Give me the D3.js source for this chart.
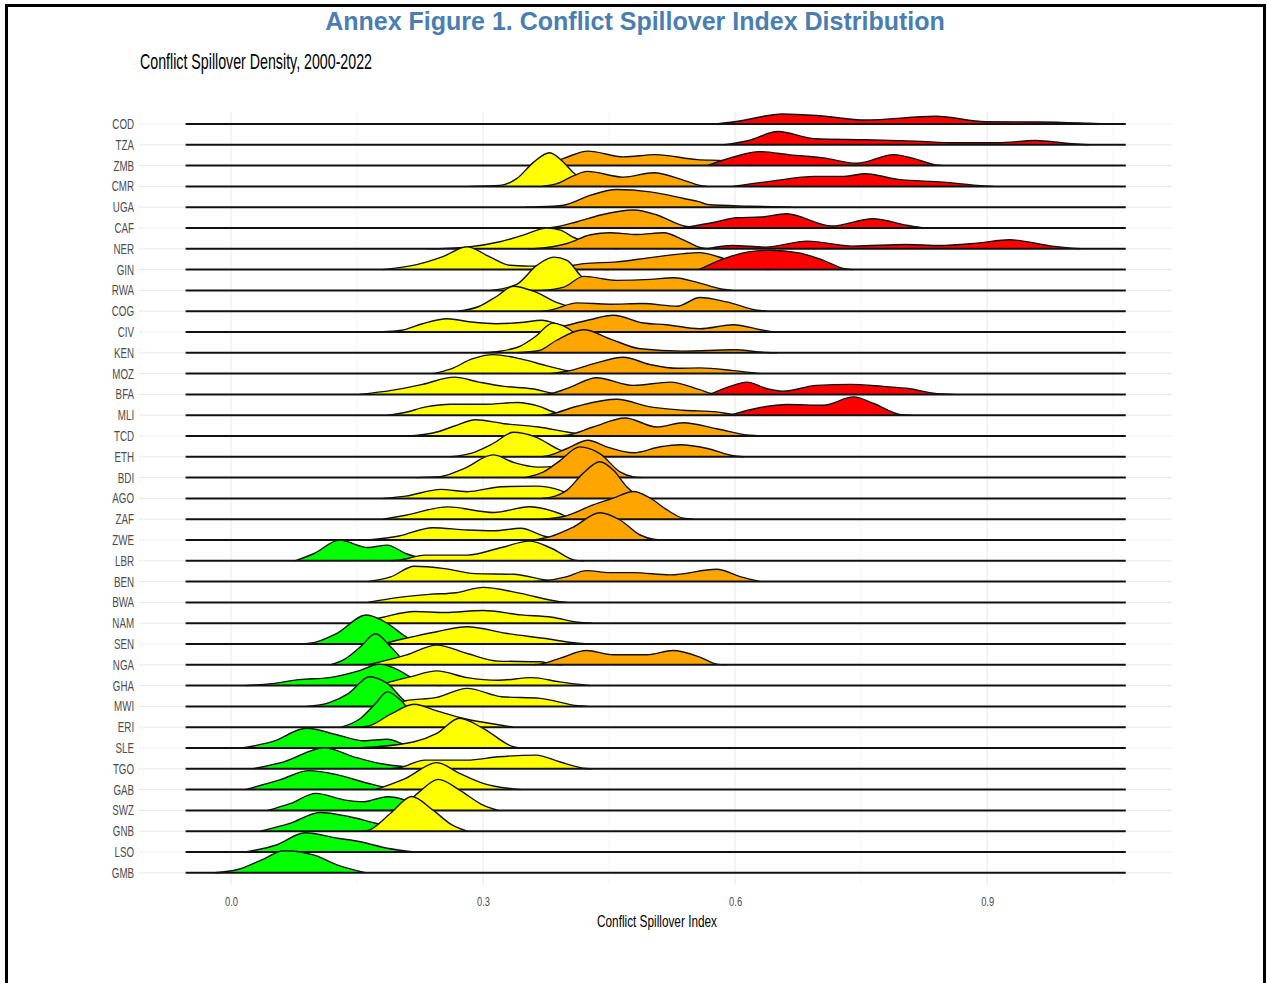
<!DOCTYPE html>
<html lang="en">
<head>
<meta charset="utf-8">
<title>Annex Figure 1. Conflict Spillover Index Distribution</title>
<script src="https://cdn.jsdelivr.net/npm/d3@7"></script>
<style>
body { margin: 0; background: #fff; }
svg { display: block; font-family: "Liberation Sans", Arial, sans-serif; }
</style>
</head>
<body>
<svg id="chart" width="1267" height="983"></svg>
<script>
// countries, top to bottom
var countries = ["COD","TZA","ZMB","CMR","UGA","CAF","NER","GIN","RWA","COG","CIV","KEN","MOZ","BFA","MLI",
  "TCD","ETH","BDI","AGO","ZAF","ZWE","LBR","BEN","BWA","NAM","SEN","NGA","GHA","MWI","ERI","SLE","TGO",
  "GAB","SWZ","GNB","LSO","GMB"];

var categories = ["Low", "Moderate", "High", "Very high"];
var categoryColors = ["#00ff00", "#ffff00", "#ffa500", "#ff0000"];

var xTicks = [0, 0.3, 0.6, 0.9];
var xMinorTicks = [0.15, 0.45, 0.75, 1.05];
var densityRange = [-0.054, 1.065];

// [index value, scaled density]
var lowDensity = [
  ["LBR", [[.076,0],[.099,7.3],[.129,20.7],[.163,13.3],[.186,15.7],[.208,7.3],[.22,4],[.24,1],[.26,0]]],
  ["SEN", [[.08,0],[.094,0.7],[.126,10.7],[.161,29],[.186,20.7],[.208,7.3],[.222,1.3],[.235,0]]],
  ["NGA", [[.118,0],[.136,6],[.154,18],[.172,31],[.19,18],[.208,3],[.22,0]]],
  ["GHA", [[.017,0],[.049,2],[.081,6],[.117,8],[.154,15.3],[.176,21.3],[.2,15.3],[.213,8.7],[.23,2],[.25,0]]],
  ["MWI", [[.09,0],[.117,3.7],[.14,13],[.165,29.7],[.186,23],[.208,4.7],[.22,0]]],
  ["ERI", [[.131,0],[.154,8.7],[.172,23.7],[.186,35.3],[.204,25.3],[.222,7],[.236,0]]],
  ["SLE", [[.013,0],[.049,6.3],[.09,19.7],[.127,13],[.158,7.3],[.186,8.7],[.208,3],[.225,0]]],
  ["TGO", [[.026,0],[.063,7],[.111,21],[.146,12],[.177,5.3],[.208,2],[.23,0]]],
  ["GAB", [[.017,0],[.058,9.7],[.093,19],[.127,14.7],[.163,6.3],[.19,1.3],[.21,0]]],
  ["SWZ", [[.044,0],[.071,7],[.101,17],[.136,10.3],[.158,8.7],[.186,13.7],[.208,10.3],[.23,2],[.25,0]]],
  ["GNB", [[.035,0],[.071,8],[.106,18.7],[.14,14.7],[.172,8],[.208,1.3],[.225,0]]],
  ["LSO", [[.017,0],[.054,7],[.088,19.3],[.127,13.7],[.154,10.3],[.186,3.7],[.218,0]]],
  ["GMB", [[-.019,0],[.008,3.3],[.036,12.7],[.063,22],[.099,17.7],[.127,7.7],[.16,0]]]
];

var moderateDensity = [
  ["CMR", [[.285,0],[.32,1],[.34,7.7],[.36,24],[.379,33.7],[.396,24],[.408,13.3],[.42,6],[.44,1],[.46,0]]],
  ["NER", [[.233,0],[.281,1.7],[.32,7],[.348,13.7],[.376,20.7],[.392,18.7],[.408,11.3],[.43,4],[.46,0]]],
  ["GIN", [[.181,0],[.221,5],[.253,13.3],[.281,22.7],[.308,12.7],[.332,4.3],[.364,3.3],[.396,2.7],[.42,1],[.45,0]]],
  ["RWA", [[.31,0],[.34,6],[.364,25],[.384,33.3],[.4,30],[.416,15],[.43,6],[.45,1],[.465,0]]],
  ["COG", [[.27,0],[.295,4.7],[.316,14.7],[.336,25],[.36,20],[.39,8],[.42,1.5],[.45,0]]],
  ["CIV", [[.178,0],[.203,1.7],[.228,8.3],[.257,13.3],[.286,10],[.316,8.3],[.345,9.5],[.37,11.8],[.392,7],[.41,3],[.44,0]]],
  ["KEN", [[.3,0],[.32,1.5],[.345,7],[.362,16],[.383,29.7],[.4,25],[.42,12],[.44,3],[.46,0]]],
  ["MOZ", [[.241,0],[.262,4.7],[.287,14.7],[.312,19],[.345,14.7],[.375,8],[.4,3],[.43,0]]],
  ["BFA", [[.153,0],[.191,4],[.228,10],[.266,17.3],[.295,12.3],[.325,8],[.358,5.7],[.387,0.7],[.4,0]]],
  ["MLI", [[.187,0],[.207,2.7],[.232,8.3],[.262,11],[.304,11],[.341,12.7],[.366,9],[.387,2.3],[.4,0]]],
  ["TCD", [[.212,0],[.245,4],[.266,10],[.291,16.3],[.325,12.3],[.366,9],[.4,4],[.425,0.7],[.44,0]]],
  ["ETH", [[.262,0],[.291,5],[.312,13.3],[.336,24.5],[.362,20],[.392,6.7],[.42,1],[.44,0]]],
  ["BDI", [[.22,0],[.249,1],[.278,9.3],[.312,22.7],[.337,15],[.366,10.5],[.385,11],[.41,5],[.44,0]]],
  ["AGO", [[.181,0],[.208,2.3],[.25,9],[.281,6.7],[.322,11.7],[.363,12.3],[.391,8.3],[.4,5],[.43,1],[.45,0]]],
  ["ZAF", [[.181,0],[.208,4],[.258,12.3],[.313,6.7],[.355,12.5],[.391,5.7],[.405,0.7],[.42,0]]],
  ["ZWE", [[.163,0],[.2,4],[.24,12.3],[.281,10],[.313,9.3],[.345,11.7],[.372,4],[.4,0]]],
  ["LBR", [[.19,0],[.2,0.7],[.231,5.7],[.281,5.7],[.322,13.3],[.355,19.7],[.382,12.3],[.409,0.7],[.42,0]]],
  ["BEN", [[.163,0],[.19,4.7],[.218,15.3],[.254,13],[.29,8],[.336,7.3],[.377,1.3],[.39,0]]],
  ["BWA", [[.163,0],[.2,5],[.236,8],[.268,9.7],[.3,15],[.345,9],[.391,0.7],[.4,0]]],
  ["NAM", [[.15,0],[.181,6],[.218,11.7],[.254,10.7],[.3,12.7],[.345,8.3],[.382,6],[.413,1],[.43,0]]],
  ["SEN", [[.18,0],[.208,5.7],[.245,12.3],[.281,17.3],[.327,10.7],[.372,5.7],[.413,0.7],[.425,0]]],
  ["NGA", [[.163,0],[.208,9.7],[.245,19.7],[.281,11.3],[.318,3.7],[.368,3],[.382,0.7],[.395,0]]],
  ["GHA", [[.17,0],[.181,2],[.213,8.7],[.245,14.7],[.281,8],[.318,5.3],[.358,8],[.391,3.7],[.427,0]]],
  ["MWI", [[.17,0],[.186,1.3],[.208,5.7],[.245,9],[.281,18],[.322,9.7],[.368,8],[.413,0.7],[.425,0]]],
  ["ERI", [[.15,0],[.163,1],[.19,13],[.218,23],[.245,16.3],[.281,8],[.322,2],[.336,0]]],
  ["SLE", [[.15,0],[.163,0.7],[.218,6.3],[.245,14.7],[.272,29.7],[.3,19.7],[.336,1.3],[.345,0]]],
  ["TGO", [[.19,0],[.2,1],[.231,8.7],[.281,8.7],[.318,12],[.363,13.7],[.391,7],[.423,0.3],[.43,0]]],
  ["GAB", [[.172,0],[.208,11.3],[.245,27],[.272,16.3],[.3,6.3],[.336,0.7],[.345,0]]],
  ["SWZ", [[.19,0],[.2,1],[.222,17],[.247,31],[.272,20.3],[.3,5.3],[.318,0]]],
  ["GNB", [[.155,0],[.163,0.7],[.19,18],[.215,34.7],[.24,21.3],[.263,6.3],[.281,0]]]
];

var highDensity = [
  ["ZMB", [[.36,0],[.38,3],[.396,7.3],[.425,14.5],[.467,8.7],[.505,11],[.555,6],[.587,5],[.62,0]]],
  ["CMR", [[.37,0],[.388,2.7],[.408,10.7],[.424,15],[.467,9.3],[.503,13.7],[.539,6],[.558,1],[.567,0]]],
  ["UGA", [[.35,0],[.364,0.3],[.396,2],[.428,12],[.459,17.7],[.499,15.3],[.539,8.7],[.558,5.3],[.567,2.7],[.616,1],[.666,0]]],
  ["CAF", [[.37,0],[.38,0.3],[.412,6.3],[.44,13],[.479,18],[.507,13],[.539,2],[.555,0.3],[.565,0]]],
  ["NER", [[.355,0],[.364,0.3],[.4,5.3],[.428,14],[.451,16],[.483,14.3],[.515,16],[.539,8.7],[.558,1.3],[.57,0]]],
  ["GIN", [[.37,0],[.396,2.7],[.42,6],[.459,7.7],[.499,12],[.539,16],[.557,17],[.587,11],[.616,2.7],[.64,0]]],
  ["RWA", [[.37,0],[.396,3.3],[.42,14],[.459,10],[.499,11],[.527,12.7],[.557,7.5],[.582,1.7],[.597,0]]],
  ["COG", [[.37,0],[.38,1],[.412,8.3],[.451,7],[.49,7.7],[.531,5],[.558,13.7],[.59,9.3],[.626,1],[.638,0]]],
  ["CIV", [[.371,0],[.403,7.3],[.427,12.3],[.455,16.7],[.491,9],[.518,7.3],[.558,3.3],[.598,7.3],[.63,2.3],[.645,0]]],
  ["KEN", [[.34,0],[.367,2.3],[.387,12.3],[.42,23],[.451,14],[.487,4],[.538,1.7],[.598,3],[.638,0.3],[.65,0]]],
  ["MOZ", [[.38,0],[.4,2.3],[.431,9.7],[.467,16.3],[.499,9],[.531,5.3],[.558,5.7],[.598,3],[.63,0]]],
  ["BFA", [[.37,0],[.38,0.7],[.404,7.3],[.435,16.7],[.479,9],[.523,12.3],[.558,4.7],[.574,0.7],[.6,0]]],
  ["MLI", [[.37,0],[.38,1],[.412,9],[.459,16],[.499,8.3],[.538,5],[.578,3.3],[.598,0.7],[.61,0]]],
  ["TCD", [[.39,0],[.4,0.7],[.431,9],[.469,18],[.507,9],[.538,13.3],[.578,7.3],[.618,0.7],[.63,0]]],
  ["ETH", [[.37,0],[.38,1.7],[.4,8.3],[.425,16.5],[.447,10],[.479,4],[.511,10],[.535,12],[.567,8.3],[.598,1],[.61,0]]],
  ["BDI", [[.35,0],[.372,5.7],[.392,17.3],[.415,30.7],[.439,24],[.463,5.7],[.479,0.7],[.49,0]]],
  ["AGO", [[.37,0],[.38,1],[.4,8.3],[.419,25],[.439,36.7],[.455,28.3],[.471,11.7],[.487,1.7],[.5,0]]],
  ["ZAF", [[.37,0],[.396,2.7],[.431,14.3],[.455,21],[.479,27.7],[.499,21],[.519,9.3],[.538,1],[.55,0]]],
  ["ZWE", [[.36,0],[.38,3.3],[.407,12.7],[.439,27.3],[.463,20],[.487,5],[.503,0.7],[.515,0]]],
  ["BEN", [[.36,0],[.372,0.7],[.4,5],[.423,11],[.451,9],[.479,9],[.523,6.7],[.578,12.3],[.606,5],[.63,0]]],
  ["NGA", [[.36,0],[.368,0.7],[.392,6.7],[.423,14.3],[.455,10],[.495,10],[.526,14.3],[.558,7.7],[.578,0.7],[.59,0]]]
];

var veryHighDensity = [
  ["COD", [[.577,0],[.607,3.3],[.656,10],[.7,8.3],[.755,4],[.839,7.7],[.898,2.3],[.962,2],[1.021,0.7],[1.046,0]]],
  ["TZA", [[.587,0],[.616,4.3],[.651,13.3],[.695,6],[.755,5],[.814,3.7],[.863,2],[.913,2],[.957,4.3],[1.001,1],[1.021,0]]],
  ["ZMB", [[.567,0],[.597,8.3],[.629,14],[.666,10.7],[.705,7.7],[.745,2.3],[.789,11],[.814,6.7],[.839,0.7],[.848,0]]],
  ["CMR", [[.597,0],[.641,5],[.695,10],[.73,10],[.755,12.7],[.794,7],[.848,4.3],[.888,1],[.908,0]]],
  ["CAF", [[.537,0],[.577,6],[.602,10.3],[.631,11],[.661,14.3],[.715,2],[.764,9.3],[.804,2.7],[.824,0]]],
  ["NER", [[.567,0],[.597,3.3],[.636,1.7],[.686,7.7],[.74,2.7],[.804,4.3],[.843,3.3],[.888,5.7],[.927,9],[.977,2.7],[1.011,0]]],
  ["GIN", [[.557,0],[.587,11],[.616,17.7],[.641,19.3],[.676,16.7],[.705,9.3],[.73,1],[.74,0]]],
  ["BFA", [[.57,0],[.594,8],[.614,12.3],[.638,5.7],[.657,3.3],[.697,9],[.737,10],[.776,8],[.808,5.7],[.836,1.3],[.86,0]]],
  ["MLI", [[.594,0],[.63,7.7],[.662,10.7],[.705,10],[.741,18.3],[.765,11.7],[.796,0.7],[.81,0]]]
];

var svg = d3.select("#chart");

// figure frame
svg.append("rect")
    .attr("x", 6.5).attr("y", 5.5)
    .attr("width", 1258).attr("height", 1010)
    .attr("fill", "none")
    .attr("stroke", "#000")
    .attr("stroke-width", 3);

svg.append("text")
    .attr("x", 635).attr("y", 30)
    .attr("text-anchor", "middle")
    .attr("font-size", 25)
    .attr("font-weight", "bold")
    .attr("fill", "#4a7eb3")
    .text("Annex Figure 1. Conflict Spillover Index Distribution");

svg.append("text")
    .attr("x", 140).attr("y", 69)
    .attr("font-size", 22)
    .attr("textLength", 232)
    .attr("lengthAdjust", "spacingAndGlyphs")
    .attr("fill", "#000")
    .text("Conflict Spillover Density, 2000-2022");

var x = d3.scaleLinear()
    .domain([-0.1095, 1.12])
    .range([139, 1172]);

var y = d3.scalePoint()
    .domain(countries)
    .range([124, 872.8]);

// ridge height: one row step per 20.8 density units
var dens = d3.scaleLinear()
    .domain([0, 20.8])
    .range([0, y.step()]);

var panelTop = 112, panelBottom = 885;

// grid
var grid = svg.append("g").attr("class", "grid");
grid.selectAll(".minor")
  .data(xMinorTicks)
  .enter().append("line")
    .attr("x1", function(d) { return x(d); })
    .attr("x2", function(d) { return x(d); })
    .attr("y1", panelTop).attr("y2", panelBottom)
    .attr("stroke", "#f3f3f3").attr("stroke-width", 0.8);
grid.selectAll(".major")
  .data(xTicks)
  .enter().append("line")
    .attr("x1", function(d) { return x(d); })
    .attr("x2", function(d) { return x(d); })
    .attr("y1", panelTop).attr("y2", panelBottom)
    .attr("stroke", "#ebebeb").attr("stroke-width", 1.1);
grid.selectAll(".row")
  .data(countries)
  .enter().append("line")
    .attr("x1", x.range()[0]).attr("x2", x.range()[1])
    .attr("y1", function(d) { return y(d); })
    .attr("y2", function(d) { return y(d); })
    .attr("stroke", "#ebebeb").attr("stroke-width", 1.2);

// collect ridge segments per country in drawing order
var layers = [lowDensity, moderateDensity, highDensity, veryHighDensity];
var rows = countries.map(function(c) {
  var segs = [];
  layers.forEach(function(layer, i) {
    layer.forEach(function(r) {
      if (r[0] === c) segs.push({ cat: i, pts: r[1] });
    });
  });
  return { country: c, segs: segs };
});

var area = d3.area()
    .x(function(d) { return x(d[0]); })
    .y0(0)
    .y1(function(d) { return -dens(d[1]); })
    .curve(d3.curveMonotoneX);

var line = d3.line()
    .x(function(d) { return x(d[0]); })
    .y(function(d) { return -dens(d[1]); })
    .curve(d3.curveMonotoneX);

var ridges = svg.append("g").attr("class", "ridges");

rows.forEach(function(row) {
  var g = ridges.append("g")
      .attr("transform", "translate(0," + y(row.country) + ")");
  row.segs.forEach(function(s) {
    g.append("path")
        .attr("d", area(s.pts))
        .attr("fill", categoryColors[s.cat]);
    g.append("path")
        .attr("d", line(s.pts))
        .attr("fill", "none")
        .attr("stroke", "#111")
        .attr("stroke-width", 1.4)
        .attr("stroke-linejoin", "round");
  });
  g.append("line")
      .attr("x1", x(densityRange[0])).attr("x2", x(densityRange[1]))
      .attr("y1", 0).attr("y2", 0)
      .attr("stroke", "#111")
      .attr("stroke-width", 2);
});

// axes
var yAxis = svg.append("g")
    .attr("transform", "translate(139,0)")
    .call(d3.axisLeft(y).tickSize(0).tickPadding(7));
yAxis.select(".domain").remove();
yAxis.selectAll("text")
    .attr("font-size", 14)
    .attr("font-family", "Liberation Sans, Arial, sans-serif")
    .attr("fill", "#4d4d4d")
    .attr("transform", "scale(0.7,1)");

var xAxis = svg.append("g")
    .attr("transform", "translate(0," + panelBottom + ")")
    .call(d3.axisBottom(x).tickValues(xTicks).tickFormat(d3.format(".1f")).tickSize(0).tickPadding(12));
xAxis.select(".domain").remove();
xAxis.selectAll("text")
    .attr("font-size", 12)
    .attr("font-family", "Liberation Sans, Arial, sans-serif")
    .attr("fill", "#4d4d4d")
    .attr("transform", "scale(0.78,1)");

svg.append("text")
    .attr("x", 657).attr("y", 927)
    .attr("text-anchor", "middle")
    .attr("font-size", 16)
    .attr("textLength", 120)
    .attr("lengthAdjust", "spacingAndGlyphs")
    .attr("fill", "#000")
    .text("Conflict Spillover Index");
</script>
</body>
</html>
